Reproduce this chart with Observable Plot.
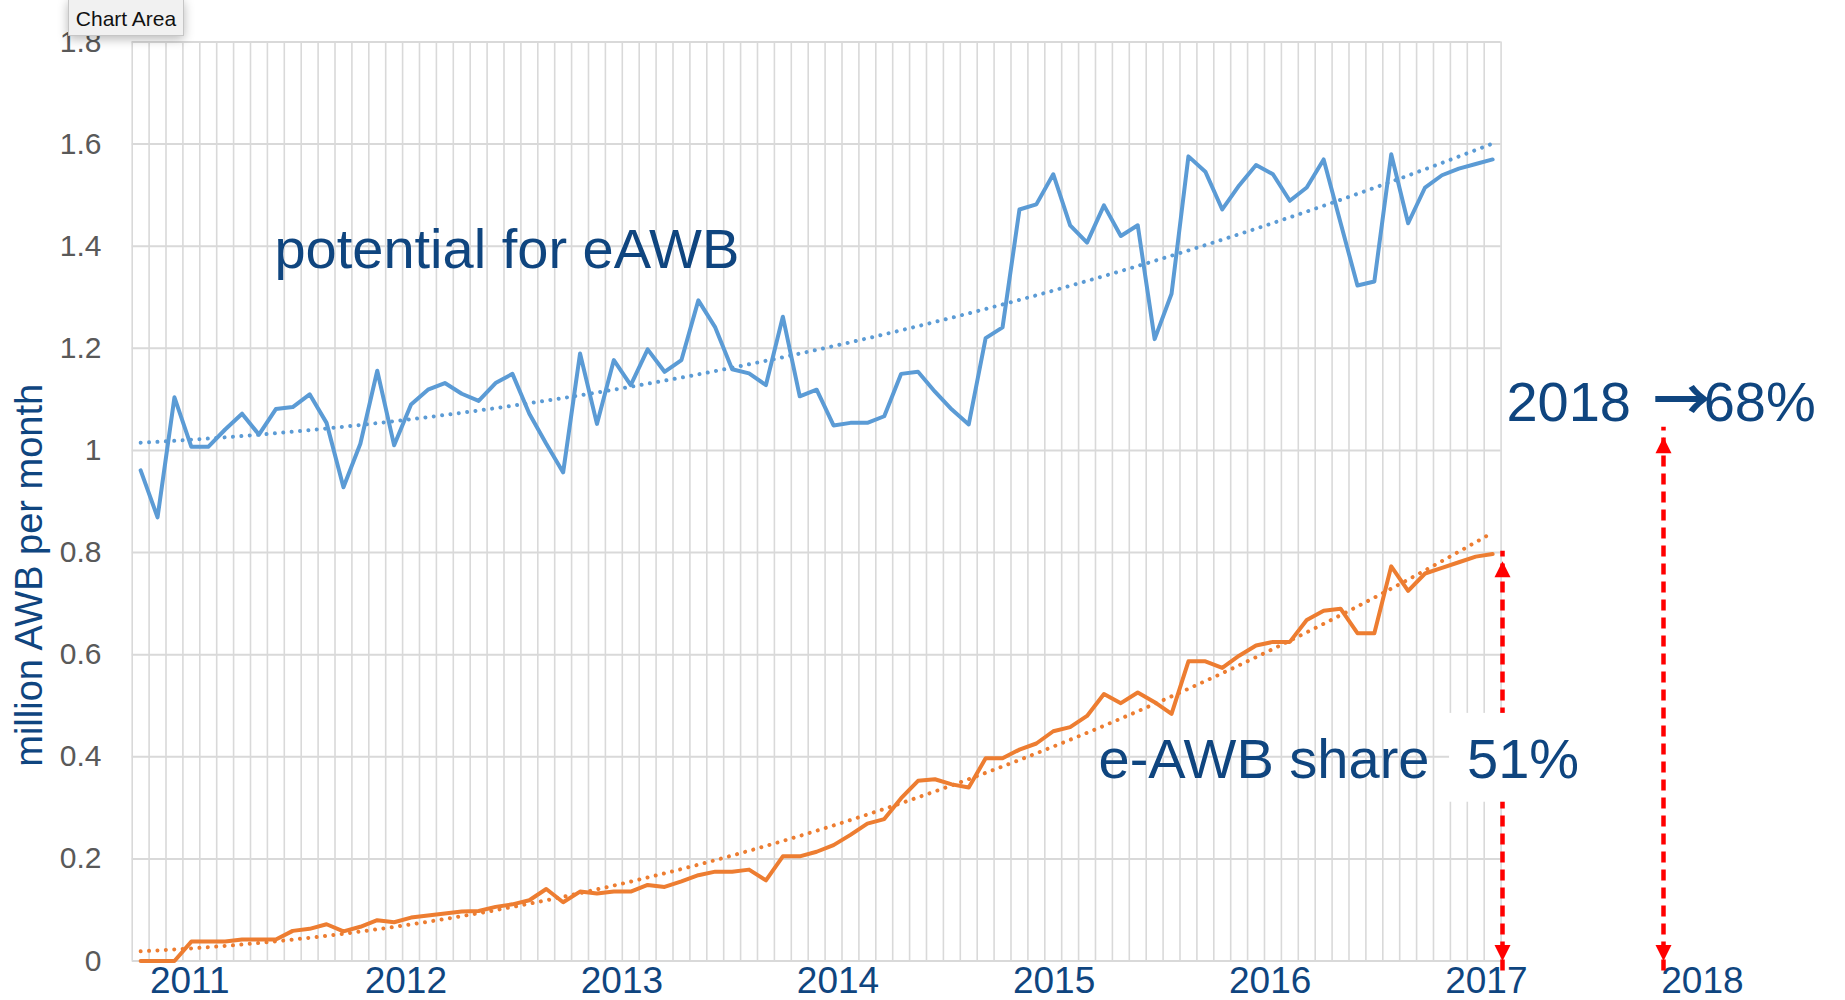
<!DOCTYPE html>
<html>
<head>
<meta charset="utf-8">
<script src="https://cdn.jsdelivr.net/npm/d3@7"></script>
<script src="https://cdn.jsdelivr.net/npm/@observablehq/plot@0.6"></script>
<style>
  html, body { margin: 0; padding: 0; background: #fff; overflow: hidden; }
  #wrap { position: relative; width: 1845px; height: 1000px; }
  #tip {
    position: absolute; left: 68px; top: -1px; width: 114px; height: 35px;
    background: #F1F1F1; border: 1px solid #C6C6C6;
    box-shadow: 0 3px 10px rgba(0,0,0,0.28);
    font: 21px 'Liberation Sans', Arial, sans-serif; color: #111;
    line-height: 37px; text-align: center; z-index: 2;
  }
</style>
</head>
<body>
<div id="wrap"><div id="chart"></div><div id="tip">Chart Area</div></div>
<script>
// ---- data ----
const periodsPerYear = 12.787;      // periods between year labels
const firstPeriod = 2010.773;       // position of the first period
const yearTicks = [2011, 2012, 2013, 2014, 2015, 2016, 2017, 2018];
const yTicks = [0, 0.2, 0.4, 0.6, 0.8, 1, 1.2, 1.4, 1.6, 1.8];

// potential for eAWB (million AWB per month)
const potential = [
  0.961, 0.869, 1.104, 1.007, 1.007, 1.041, 1.072, 1.031, 1.081, 1.085,
  1.110, 1.054, 0.928, 1.013, 1.156, 1.010, 1.090, 1.119, 1.132, 1.111,
  1.097, 1.132, 1.150, 1.072, 1.013, 0.957, 1.190, 1.052, 1.177, 1.128,
  1.198, 1.154, 1.177, 1.294, 1.241, 1.159, 1.151, 1.128, 1.262, 1.106,
  1.119, 1.049, 1.054, 1.054, 1.067, 1.150, 1.154, 1.115, 1.080, 1.051,
  1.220, 1.241, 1.472, 1.482, 1.541, 1.441, 1.407, 1.480, 1.420, 1.441,
  1.218, 1.307, 1.576, 1.546, 1.472, 1.519, 1.559, 1.541, 1.489, 1.515,
  1.570, 1.446, 1.323, 1.331, 1.580, 1.445, 1.515, 1.539, 1.552, 1.561,
  1.570
];

// e-AWB volume (million AWB per month)
const eawb = [
  0.000, 0.000, 0.000, 0.038, 0.038, 0.038, 0.042, 0.042, 0.042, 0.059,
  0.063, 0.072, 0.058, 0.067, 0.080, 0.076, 0.085, 0.089, 0.093, 0.097,
  0.098, 0.106, 0.111, 0.119, 0.141, 0.115, 0.136, 0.132, 0.136, 0.136,
  0.149, 0.145, 0.156, 0.168, 0.175, 0.175, 0.179, 0.158, 0.205, 0.205,
  0.214, 0.227, 0.247, 0.269, 0.278, 0.319, 0.353, 0.356, 0.346, 0.340,
  0.397, 0.397, 0.414, 0.426, 0.450, 0.458, 0.480, 0.523, 0.505, 0.526,
  0.507, 0.484, 0.587, 0.587, 0.574, 0.598, 0.618, 0.625, 0.625, 0.668,
  0.686, 0.690, 0.642, 0.642, 0.773, 0.725, 0.759, 0.770, 0.781, 0.792,
  0.797
];

const yTitle = "million AWB per month";
const arrows = [
  {x: 2017.075, y1: 0, y2: 0.783},
  {x: 2017.82, y1: 0, y2: 1.026}
];

// ---- helpers ----
// least-squares polynomial (order 2) trend, as in the spreadsheet
function quadFit(ys) {
  const S = [0, 0, 0, 0, 0], T = [0, 0, 0];
  ys.forEach((y, i) => {
    let p = 1;
    for (let k = 0; k < 5; k++) { S[k] += p; if (k < 3) T[k] += p * y; p *= i; }
  });
  const A = [[S[0], S[1], S[2], T[0]], [S[1], S[2], S[3], T[1]], [S[2], S[3], S[4], T[2]]];
  for (let c = 0; c < 3; c++) {
    for (let r = c + 1; r < 3; r++) {
      const f = A[r][c] / A[c][c];
      for (let k = c; k < 4; k++) A[r][k] -= f * A[c][k];
    }
  }
  const s = [0, 0, 0];
  for (let r = 2; r >= 0; r--) {
    let v = A[r][3];
    for (let k = r + 1; k < 3; k++) v -= A[r][k] * s[k];
    s[r] = v / A[r][r];
  }
  return ys.map((_, i) => s[0] + s[1] * i + s[2] * i * i);
}

const period = i => firstPeriod + i / periodsPerYear;
const trendP = quadFit(potential);
const trendE = quadFit(eawb);
const rowsP = potential.map((v, i) => ({t: period(i), v, trend: trendP[i]}));
const rowsE = eawb.map((v, i) => ({t: period(i), v, trend: trendE[i]}));
const xLeft = period(-0.5), xRight = period(potential.length - 0.5);
const gridX = d3.range(potential.length + 1).map(j => period(j - 0.5));

const triUp = {draw(ctx, size) { const r = Math.sqrt(size / Math.PI); ctx.moveTo(0, 0); ctx.lineTo(r, 2 * r); ctx.lineTo(-r, 2 * r); ctx.closePath(); }};
const triDown = {draw(ctx, size) { const r = Math.sqrt(size / Math.PI); ctx.moveTo(0, 0); ctx.lineTo(r, -2 * r); ctx.lineTo(-r, -2 * r); ctx.closePath(); }};

const blue = "#5B9BD5", orange = "#ED7D31", navy = "#0F457F", grid = "#D9D9D9", red = "#FF0000";
const font = "'Liberation Sans', Arial, Helvetica, sans-serif";

const chart = Plot.plot({
  width: 1845,
  height: 1000,
  marginLeft: 131.7,
  marginRight: 35.05,
  marginTop: 41.5,
  marginBottom: 39.5,
  x: {domain: [xLeft, 2018.5]},
  y: {domain: [0, 1.8]},
  style: {fontFamily: font, background: "white", overflow: "visible"},
  marks: [
    Plot.ruleX(gridX, {y1: 0, y2: 1.8, stroke: grid, strokeWidth: 1.6}),
    Plot.ruleY(yTicks, {x1: xLeft, x2: xRight, stroke: grid, strokeWidth: 2}),
    Plot.axisY({ticks: yTicks, tickSize: 0, tickPadding: 30.7, tickFormat: d => String(+d.toFixed(1)),
      fontSize: 30, fill: "#595959", label: null}),
    Plot.axisX({ticks: yearTicks, tickSize: 0, tickPadding: 6, tickFormat: d => String(d),
      fontSize: 37, fill: navy, label: null}),
    Plot.text([yTitle], {frameAnchor: "left", rotate: -90, dx: -102.3, dy: 73.8,
      fontSize: 38, fill: navy, textAnchor: "middle", lineAnchor: "middle"}),
    // trendlines
    Plot.line(rowsP, {x: "t", y: "trend", stroke: blue, strokeWidth: 4, strokeDasharray: "0.01 8.4", strokeLinecap: "round"}),
    Plot.line(rowsE, {x: "t", y: "trend", stroke: orange, strokeWidth: 4, strokeDasharray: "0.01 8.4", strokeLinecap: "round"}),
    // series
    Plot.line(rowsP, {x: "t", y: "v", stroke: blue, strokeWidth: 4, strokeLinejoin: "round"}),
    Plot.line(rowsE, {x: "t", y: "v", stroke: orange, strokeWidth: 4, strokeLinejoin: "round"}),
    // annotations
    Plot.text(["potential for eAWB"], {x: 2011.392, y: 1.357, textAnchor: "start", lineAnchor: "bottom", fontSize: 56, fill: navy}),
    Plot.text(["e-AWB share"], {x: 2015.2055, y: 0.3584, textAnchor: "start", lineAnchor: "bottom", fontSize: 56, fill: navy}),
    Plot.text(["2018"], {x: 2017.093, y: 1.058, textAnchor: "start", lineAnchor: "bottom", fontSize: 56, fill: navy}),
    Plot.text(["\u2192"], {x: 2017.906, y: 1.057, textAnchor: "middle", lineAnchor: "bottom", fontSize: 58,
      fontWeight: "bold", fontFamily: "'Noto Sans CJK JP', 'Noto Sans CJK SC', sans-serif", fill: navy}),
    Plot.text(["68%"], {x: 2018.006, y: 1.058, textAnchor: "start", lineAnchor: "bottom", fontSize: 56, fill: navy}),
    // red dashed double arrows
    Plot.ruleX(arrows, {x: "x", y1: "y1", y2: "y2", stroke: red, strokeWidth: 4.5, strokeDasharray: "11 7", insetTop: 10, insetBottom: 10}),
    Plot.dot(arrows, {x: "x", y: "y2", symbol: triUp, r: 8, fill: red, stroke: "none"}),
    Plot.dot(arrows, {x: "x", y: "y1", symbol: triDown, r: 8, fill: red, stroke: "none"}),
    // white box behind the share value
    Plot.rect([0], {x1: 2016.83, x2: 2017.3, y1: 0.311, y2: 0.485, fill: "white"}),
    Plot.text(["51%"], {x: 2016.911, y: 0.3584, textAnchor: "start", lineAnchor: "bottom", fontSize: 56, fill: navy})
  ]
});
document.getElementById("chart").appendChild(chart);
</script>
</body>
</html>
